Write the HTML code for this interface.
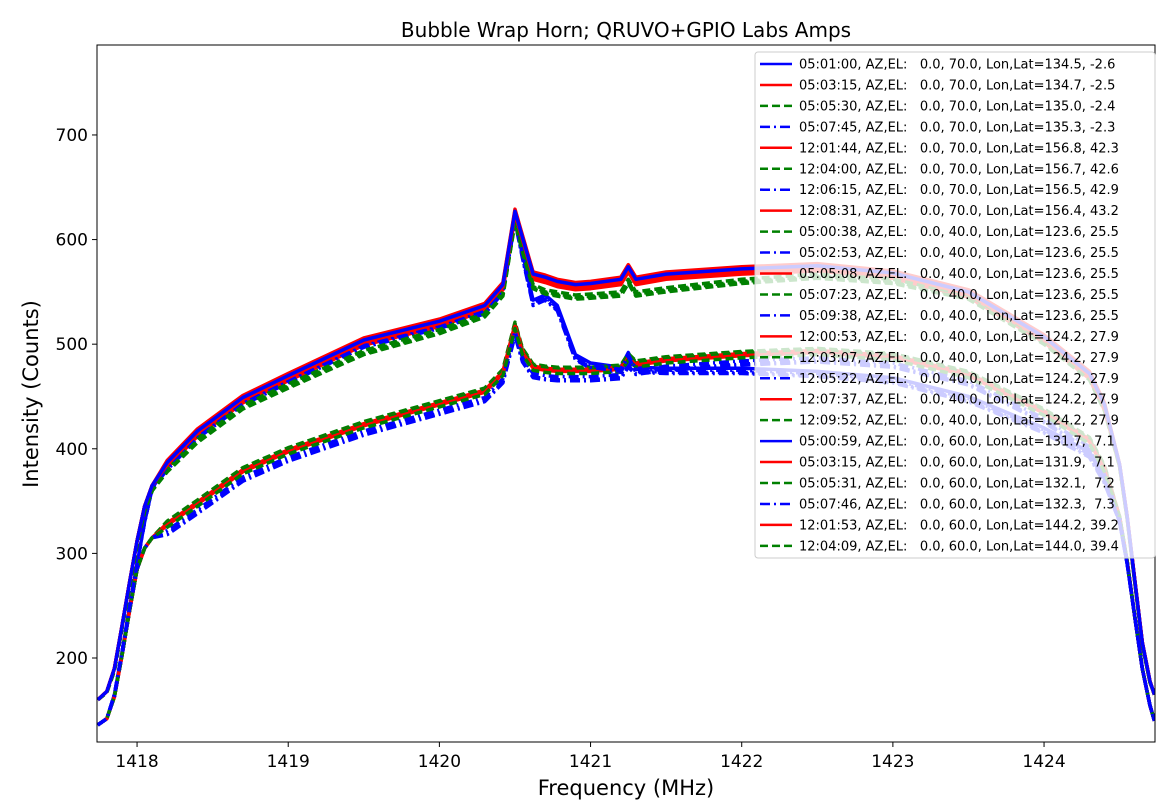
<!DOCTYPE html>
<html><head><meta charset="utf-8"><style>
body{margin:0;background:#fff;}
svg{display:block;font-family:"DejaVu Sans","Liberation Sans",sans-serif;}
</style></head><body>
<svg id="chart" width="1176" height="804">
<text x="626" y="37" text-anchor="middle" font-size="20">Bubble Wrap Horn; QRUVO+GPIO Labs Amps</text>
<g id="plot"></g>
<g id="axes"></g>
<text x="626" y="795" text-anchor="middle" font-size="21">Frequency (MHz)</text>
<text transform="translate(38,394) rotate(-90)" text-anchor="middle" font-size="21">Intensity (Counts)</text>
<g id="legend"></g>
</svg>
<script>
const freqs=[1417.74,1417.8,1417.85,1417.9,1417.95,1418.0,1418.05,1418.1,1418.2,1418.4,1418.7,1419.0,1419.5,1420.0,1420.3,1420.42,1420.5,1420.55,1420.62,1420.7,1420.78,1420.9,1421.0,1421.2,1421.25,1421.3,1421.5,1422.0,1422.5,1423.0,1423.5,1424.0,1424.3,1424.4,1424.5,1424.55,1424.6,1424.65,1424.7,1424.73];
const profUpper=[160,168,190,230,272,312,345,365,385,415,447,468,502,520,535,555,625,600,565,562,558,555,556,560,572,560,565,570,573,566,548,505,470,440,385,335,275,215,178,165];
const profUpperGreen=[160,167,188,228,268,308,340,360,380,408,440,460,492,512,528,548,618,590,555,550,548,545,546,548,560,548,552,560,565,560,545,502,468,438,383,333,273,213,177,165];
const profCross=[136,142,165,205,248,290,330,362,383,413,445,466,500,518,532,552,620,585,540,545,535,488,480,476,490,476,475,475,472,466,448,418,395,370,330,290,240,190,155,140];
const profLower=[136,142,163,202,245,285,305,315,325,345,376,395,420,440,452,470,515,490,475,473,472,472,472,474,485,478,482,487,490,485,468,432,405,378,335,292,240,190,155,140];
const tickX=[1418,1419,1420,1421,1422,1423,1424];
const tickY=[200,300,400,500,600,700];
const labels=["05:01:00, AZ,EL:   0.0, 70.0, Lon,Lat=134.5, -2.6","05:03:15, AZ,EL:   0.0, 70.0, Lon,Lat=134.7, -2.5","05:05:30, AZ,EL:   0.0, 70.0, Lon,Lat=135.0, -2.4","05:07:45, AZ,EL:   0.0, 70.0, Lon,Lat=135.3, -2.3","12:01:44, AZ,EL:   0.0, 70.0, Lon,Lat=156.8, 42.3","12:04:00, AZ,EL:   0.0, 70.0, Lon,Lat=156.7, 42.6","12:06:15, AZ,EL:   0.0, 70.0, Lon,Lat=156.5, 42.9","12:08:31, AZ,EL:   0.0, 70.0, Lon,Lat=156.4, 43.2","05:00:38, AZ,EL:   0.0, 40.0, Lon,Lat=123.6, 25.5","05:02:53, AZ,EL:   0.0, 40.0, Lon,Lat=123.6, 25.5","05:05:08, AZ,EL:   0.0, 40.0, Lon,Lat=123.6, 25.5","05:07:23, AZ,EL:   0.0, 40.0, Lon,Lat=123.6, 25.5","05:09:38, AZ,EL:   0.0, 40.0, Lon,Lat=123.6, 25.5","12:00:53, AZ,EL:   0.0, 40.0, Lon,Lat=124.2, 27.9","12:03:07, AZ,EL:   0.0, 40.0, Lon,Lat=124.2, 27.9","12:05:22, AZ,EL:   0.0, 40.0, Lon,Lat=124.2, 27.9","12:07:37, AZ,EL:   0.0, 40.0, Lon,Lat=124.2, 27.9","12:09:52, AZ,EL:   0.0, 40.0, Lon,Lat=124.2, 27.9","05:00:59, AZ,EL:   0.0, 60.0, Lon,Lat=131.7,  7.1","05:03:15, AZ,EL:   0.0, 60.0, Lon,Lat=131.9,  7.1","05:05:31, AZ,EL:   0.0, 60.0, Lon,Lat=132.1,  7.2","05:07:46, AZ,EL:   0.0, 60.0, Lon,Lat=132.3,  7.3","12:01:53, AZ,EL:   0.0, 60.0, Lon,Lat=144.2, 39.2","12:04:09, AZ,EL:   0.0, 60.0, Lon,Lat=144.0, 39.4"];
const colors=["#0000ff","#ff0000","#008000","#0000ff","#ff0000","#008000","#0000ff","#ff0000","#008000","#0000ff","#ff0000","#008000","#0000ff","#ff0000","#008000","#0000ff","#ff0000","#008000","#0000ff","#ff0000","#008000","#0000ff","#ff0000","#008000"];
const styles=["s","s","d","dd","s","d","dd","s","d","dd","s","d","dd","s","d","dd","s","d","s","s","d","dd","s","d"];
const profIdx=[0,0,1,2,0,1,2,0,3,3,3,3,3,3,3,3,3,3,2,0,1,2,0,1];
const offsets=[2,0,-2,0,4,2,-2,-3,0,-3,2,4,-6,4,6,-7,3,5,2,-2,0,-3,3,-1];

const NS="http://www.w3.org/2000/svg";
const L=97,R=1155,T=45,B=742;
const xmin=1417.735,xmax=1424.734,ymin=119.7,ymax=786;
const sx=v=>L+(v-xmin)/(xmax-xmin)*(R-L);
const sy=v=>B-(v-ymin)/(ymax-ymin)*(B-T);
const dash={s:"",d:"8,4",dd:"10,4,2,4"};
const profs=[profUpper,profUpperGreen,profCross,profLower];
function mk(t,a,p){const e=document.createElementNS(NS,t);for(const k in a)e.setAttribute(k,a[k]);p.appendChild(e);return e;}
const plot=document.getElementById('plot');
mk('defs',{},plot).innerHTML='<clipPath id="cp"><rect x="97" y="45" width="1058" height="697"/></clipPath>';
const g=mk('g',{'clip-path':'url(#cp)'},plot);
for(let i=labels.length-1;i>=0;i--){
  const p=profs[profIdx[i]];
  const d=freqs.map((f,j)=>(j?'L':'M')+sx(f).toFixed(1)+','+sy(p[j]+(j>7&&j<freqs.length-6?offsets[i]:0)).toFixed(1)).join('');
  const el=mk('path',{d:d,fill:'none',stroke:colors[i],'stroke-width':3.5,'stroke-dasharray':dash[styles[i]],'stroke-linejoin':'round'},g);
  
  
}
const axes=document.getElementById('axes');
mk('rect',{x:L,y:T,width:R-L,height:B-T,fill:'none',stroke:'#000','stroke-width':1},axes);
tickX.forEach(v=>{const x=sx(v);mk('line',{x1:x,x2:x,y1:B,y2:B+5,stroke:'#000'},axes);
 const t=mk('text',{x:x,y:B+25,'text-anchor':'middle','font-size':17},axes);t.textContent=v;
 
 });
tickY.forEach(v=>{const y=sy(v);mk('line',{x1:L-5,x2:L,y1:y,y2:y,stroke:'#000'},axes);
 const t=mk('text',{x:L-9,y:y+6,'text-anchor':'end','font-size':17},axes);t.textContent=v;
 
 });
const lg=document.getElementById('legend');
mk('rect',{x:755,y:52,width:400,height:506,rx:3,fill:'rgba(255,255,255,0.8)',stroke:'#ccc'},lg);
labels.forEach((s,i)=>{const y=64+i*20.95;
 const ln=mk('line',{x1:760,x2:792,y1:y,y2:y,stroke:colors[i],'stroke-width':2.5,'stroke-dasharray':dash[styles[i]]},lg);
 
 
 const t=mk('text',{x:799,y:y+4.5,'font-size':13,'xml:space':'preserve'},lg);t.textContent=s;
 
 
 t.style.whiteSpace='pre';});
</script>
</body></html>
